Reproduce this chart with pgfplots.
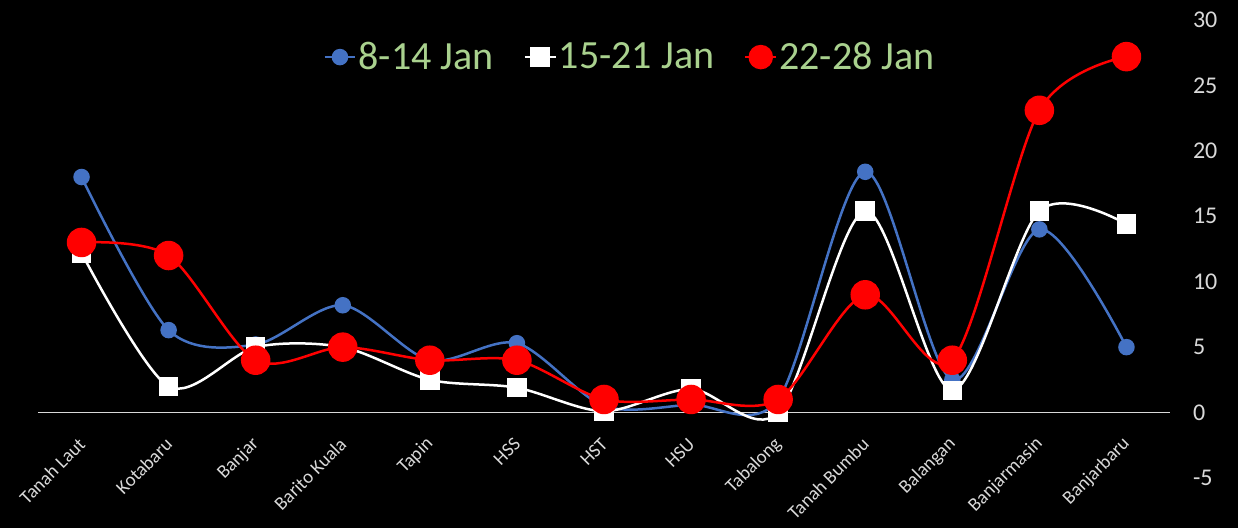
\documentclass[border=0pt]{standalone}
\usepackage{pgfplots}
\pgfplotsset{compat=1.18}
\usepackage{fontspec}
\setmainfont{Carlito}
\definecolor{bl}{HTML}{4472C4}
\definecolor{rd}{HTML}{FF0000}
\definecolor{lg}{HTML}{A9D18E}
\definecolor{zl}{HTML}{D9D9D9}
\begin{document}
\begin{tikzpicture}
\fill[black] (-19pt,-25pt) rectangle (600pt,239pt);
\useasboundingbox (-19pt,-25pt) rectangle (600pt,239pt);
\begin{axis}[
  at={(0,0)}, anchor=south west,
  scale only axis, width=566pt, height=229pt,
  xmin=-0.5, xmax=12.5, ymin=-5, ymax=30,
  axis x line=middle, axis y line*=right,
  x axis line style={-, draw=zl, line width=0.8pt},
  y axis line style={draw=none},
  hide obscured x ticks=false, hide obscured y ticks=false,
  xtick={0,...,12},
  xticklabels={Tanah Laut,Kotabaru,Banjar,Barito Kuala,Tapin,HSS,HST,HSU,Tabalong,Tanah Bumbu,Balangan,Banjarmasin,Banjarbaru},
  xticklabel style={yshift=-13.5pt, xshift=1pt, rotate=45, anchor=east, text=zl, font=\fontsize{9.5}{11}\selectfont, inner sep=1pt},
  ytick={-5,0,...,30},
  yticklabel style={text=zl, font=\fontsize{12}{14}\selectfont, anchor=west, xshift=8pt},
  /pgf/number format/assume math mode=true,
  major tick length=0pt,
  tick style={draw=none},
  clip=false,
  legend columns=3,
  legend style={at={(0.523,0.919)}, anchor=center, draw=none, fill=none, text=lg,
    font=\fontsize{20}{24}\selectfont, nodes={inner sep=1pt},
    /tikz/every even column/.append style={column sep=14pt}},
  legend image code/.code={\draw[mark repeat=2,mark phase=2] plot coordinates {(0cm,0cm) (0.27cm,0cm) (0.54cm,0cm)};},
]
\addplot[bl, line width=1.25pt, smooth, tension=0.5, mark=*, mark size=3.5pt, mark options={fill=bl, draw=bl}]
coordinates {(0,18.0) (1,6.3) (2,5.2) (3,8.2) (4,4.0) (5,5.3) (6,0.5) (7,0.6) (8,1.0) (9,18.4) (10,2.5) (11,14.0) (12,5.0)};
\addlegendentry{8-14 Jan}
\addplot[white, line width=1.25pt, smooth, tension=0.5, mark=square*, mark size=4.25pt, mark options={fill=white, draw=white}]
coordinates {(0,12.2) (1,2.0) (2,5.0) (3,5.0) (4,2.5) (5,1.9) (6,0.1) (7,1.8) (8,0.0) (9,15.4) (10,1.7) (11,15.4) (12,14.4)};
\addlegendentry{15-21 Jan}
\addplot[rd, line width=1.25pt, smooth, tension=0.5, mark=*, mark size=6.75pt, mark options={fill=rd, draw=rd},
  legend image post style={mark size=5.5pt}]
coordinates {(0,13.0) (1,12.0) (2,4.0) (3,5.0) (4,4.0) (5,4.0) (6,1.0) (7,1.0) (8,1.0) (9,9.0) (10,4.0) (11,23.1) (12,27.2)};
\addlegendentry{22-28 Jan}
\end{axis}
\end{tikzpicture}
\end{document}
